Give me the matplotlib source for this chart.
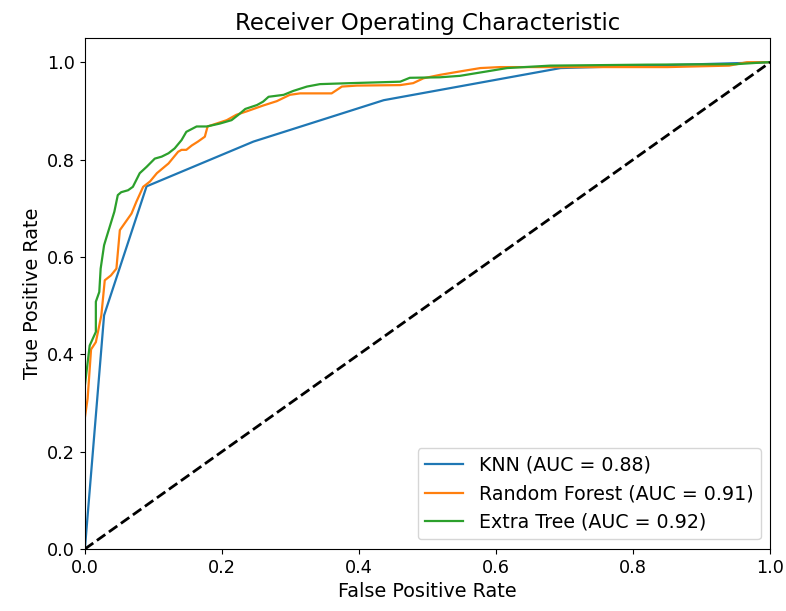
import matplotlib
matplotlib.use("Agg")
import matplotlib.pyplot as plt

# ---------------- ROC points ---------------- #
knn_fpr = [0.0, 0.028, 0.09, 0.246, 0.436, 0.694, 1.0]
knn_tpr = [0.0, 0.48, 0.745, 0.837, 0.922, 0.988, 1.0]

rf_fpr = [0.0, 0.0, 0.004, 0.009, 0.016, 0.024, 0.029, 0.038, 0.046, 0.051,
          0.058, 0.068, 0.075, 0.085, 0.095, 0.105, 0.122, 0.136, 0.141, 0.148,
          0.156, 0.165, 0.175, 0.179, 0.192, 0.207, 0.221, 0.236, 0.26, 0.28,
          0.299, 0.314, 0.36, 0.375, 0.397, 0.46, 0.479, 0.494, 0.518, 0.547,
          0.577, 0.606, 0.7, 0.85, 0.94, 0.966, 1.0]
rf_tpr = [0.0, 0.27, 0.309, 0.41, 0.425, 0.48, 0.552, 0.562, 0.576, 0.655,
          0.669, 0.689, 0.713, 0.744, 0.755, 0.772, 0.792, 0.816, 0.82, 0.82,
          0.829, 0.837, 0.847, 0.868, 0.874, 0.881, 0.892, 0.899, 0.911, 0.92,
          0.933, 0.936, 0.936, 0.95, 0.952, 0.953, 0.957, 0.967, 0.974, 0.981,
          0.988, 0.99, 0.99, 0.99, 0.993, 1.0, 1.0]

et_fpr = [0.0, 0.0, 0.007, 0.016, 0.016, 0.021, 0.023, 0.028, 0.031, 0.043,
          0.048, 0.053, 0.063, 0.07, 0.08, 0.09, 0.102, 0.112, 0.122, 0.131,
          0.141, 0.148, 0.163, 0.178, 0.197, 0.214, 0.224, 0.234, 0.251, 0.26,
          0.268, 0.29, 0.304, 0.324, 0.343, 0.387, 0.46, 0.474, 0.518, 0.547,
          0.586, 0.616, 0.679, 0.82, 0.95, 0.995, 1.0]
et_tpr = [0.0, 0.336, 0.418, 0.446, 0.508, 0.528, 0.576, 0.624, 0.638, 0.693,
          0.727, 0.733, 0.737, 0.744, 0.772, 0.785, 0.802, 0.806, 0.813, 0.823,
          0.84, 0.857, 0.868, 0.868, 0.874, 0.881, 0.892, 0.904, 0.912, 0.919,
          0.929, 0.933, 0.941, 0.95, 0.955, 0.957, 0.96, 0.968, 0.969, 0.972,
          0.981, 0.988, 0.993, 0.995, 0.996, 1.0, 1.0]

models = ["KNN", "Random Forest", "Extra Tree"]
aucs = [0.88, 0.91, 0.92]

# ---------------- Plot ---------------- #
plt.rcParams['font.size'] = 12.7
fig, ax = plt.subplots(figsize=(7.86, 6.11), dpi=100)
fig.subplots_adjust(left=0.108, right=0.98, bottom=0.1015, top=0.938)

curves = [(knn_fpr, knn_tpr), (rf_fpr, rf_tpr), (et_fpr, et_tpr)]
for (fpr, tpr), name, auc in zip(curves, models, aucs):
    ax.plot(fpr, tpr, lw=1.6, label=f"{name} (AUC = {auc:.2f})")

ax.plot([0, 1], [0, 1], 'k--', lw=2.0)
ax.set_xlim(0.0, 1.0)
ax.set_ylim(0.0, 1.05)
ax.set_xlabel("False Positive Rate", fontsize=13.9)
ax.set_ylabel("True Positive Rate", fontsize=13.9)
ax.set_title("Receiver Operating Characteristic", fontsize=16.4)
ax.legend(loc="lower right", fontsize=13.7)

fig.savefig("out.png", dpi=100)
